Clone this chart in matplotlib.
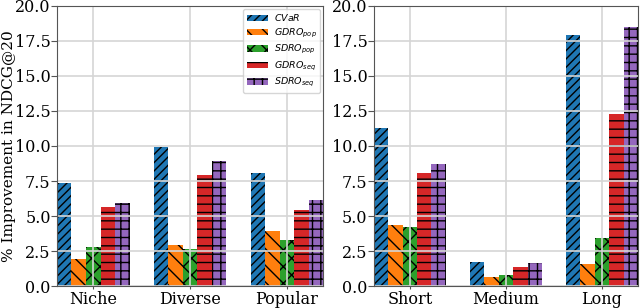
import numpy as np
import matplotlib
matplotlib.use("Agg")
import matplotlib.pyplot as plt

plt.rcParams['font.family'] = 'DejaVu Serif'
plt.rcParams['mathtext.fontset'] = 'dejavusans'

methods = [r'$CVaR$', r'$GDRO_{pop}$', r'$SDRO_{pop}$', r'$GDRO_{seq}$', r'$SDRO_{seq}$']
hatches = ['////', '\\\\', 'xx', '--', '++']
colors = ['tab:blue', 'tab:orange', 'tab:green', 'tab:red', 'tab:purple']

groups_left = ['Niche', 'Diverse', 'Popular']
cvar_left = [7.35, 9.95, 8.1]
gdro_pop_left = [1.95, 2.9, 3.9]
sdro_pop_left = [2.8, 2.65, 3.3]
gdro_seq_left = [5.65, 7.95, 5.4]
sdro_seq_left = [5.95, 8.9, 6.15]

groups_right = ['Short', 'Medium', 'Long']
cvar_right = [11.25, 1.7, 17.9]
gdro_pop_right = [4.35, 0.65, 1.6]
sdro_pop_right = [4.25, 0.8, 3.45]
gdro_seq_right = [8.05, 1.4, 12.25]
sdro_seq_right = [8.7, 1.65, 18.5]


def draw(ax, groups, series):
    x = np.arange(len(groups))
    w = 0.15
    for i, vals in enumerate(series):
        ax.bar(x + (i - 2) * w, vals, w, color=colors[i], hatch=hatches[i],
               label=methods[i])
    ax.margins(x=0)
    ax.set_ylim(0, 20)
    ax.set_yticks(np.arange(0, 20.1, 2.5))
    ax.set_xticks(x)
    ax.set_xticklabels(groups)
    ax.tick_params(axis='y', labelsize=11.5, length=4, pad=0.5, color='#555555')
    ax.tick_params(axis='x', labelsize=11.5, length=2.5, pad=1, color='#555555')
    ax.grid(True, color='#d5d5d5', linewidth=1.2)
    for s in ax.spines.values():
        s.set_color('#555555')


fig = plt.figure(figsize=(6.4, 3.08), dpi=100)
ax1 = fig.add_axes([0.089, 0.071, 0.416, 0.910])
ax2 = fig.add_axes([0.584, 0.071, 0.413, 0.910])

draw(ax1, groups_left, [cvar_left, gdro_pop_left, sdro_pop_left, gdro_seq_left, sdro_seq_left])
draw(ax2, groups_right, [cvar_right, gdro_pop_right, sdro_pop_right, gdro_seq_right, sdro_seq_right])

ax1.set_ylabel('% Improvement in NDCG@20', fontsize=11)
ax1.yaxis.set_label_coords(-0.152, 0.5)
ax1.legend(loc='upper right', fontsize=6.8, handlelength=2.2, labelspacing=0.35,
           borderaxespad=0.3, handletextpad=0.6)

fig.savefig('out.png', dpi=100)
